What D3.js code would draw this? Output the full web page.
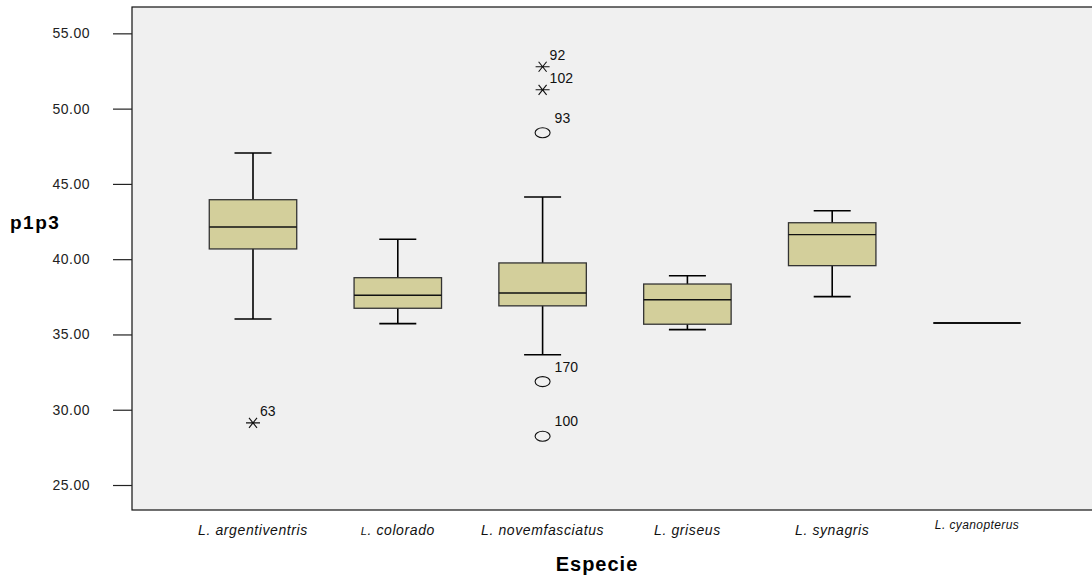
<!DOCTYPE html>
<html>
<head>
<meta charset="utf-8">
<script src="https://cdn.jsdelivr.net/npm/d3@7"></script>
<style>
  body { margin: 0; background: white; }
  text { font-family: "Liberation Sans", Arial, sans-serif; }
</style>
</head>
<body>
<div id="app"></div>
<script>
// data
const especies = ["L. argentiventris", "L. colorado", "L. novemfasciatus", "L. griseus", "L. synagris", "L. cyanopterus"]
const whiskLo = [36.03, 35.72, 33.65, 35.32, 37.51, 35.76]
const q1 = [40.68, 36.74, 36.9, 35.68, 39.57, 35.76]
const medians = [42.14, 37.6, 37.75, 37.31, 41.63, 35.76]
const q3 = [43.95, 38.77, 39.75, 38.35, 42.42, 35.76]
const whiskHi = [47.05, 41.32, 44.13, 38.9, 43.22, 35.76]

const outCat = ["L. argentiventris", "L. novemfasciatus", "L. novemfasciatus", "L. novemfasciatus", "L. novemfasciatus", "L. novemfasciatus"]
const outVal = [29.13, 52.78, 51.25, 48.4, 31.87, 28.24]
const outLabel = ["63", "92", "102", "93", "170", "100"]
const outType = ["star", "star", "star", "circle", "circle", "circle"]

const yTicks = [25, 30, 35, 40, 45, 50, 55]

var w = 1092
var h = 579
const plotL = 132, plotT = 7, plotB = 510

const svg = d3.select("#app")
  .append("svg")
  .attr("width", w)
  .attr("height", h)

svg.append("rect")
  .attr("x", plotL)
  .attr("y", plotT)
  .attr("width", w - plotL + 5)
  .attr("height", plotB - plotT)
  .style("fill", "#f0f0f0")
  .style("stroke", "#111")
  .style("stroke-width", 1.2)

const y = d3.scaleLinear()
  .domain([23.34, 56.75])
  .range([plotB, plotT])

const x = d3.scaleBand()
  .domain(especies)
  .range([180.6, 1049.4])
  .paddingInner(0.396)
  .paddingOuter(0.198)

const cx = d => x(d) + x.bandwidth() / 2
const capW = 37

// y axis
const yAxis = d3.axisLeft(y)
  .tickValues(yTicks)
  .tickFormat(d3.format(".2f"))
  .tickSize(19)
  .tickPadding(23)

const ya = svg.append("g")
  .attr("transform", "translate(" + plotL + ",0)")
  .call(yAxis)
ya.select(".domain").remove()
ya.selectAll("line").style("stroke", "#222").style("stroke-width", 1.2)
ya.selectAll("text")
  .style("font-size", "14px")
  .style("letter-spacing", "0.5px")
  .style("fill", "#222")

// x axis labels
const xa = svg.append("g")
  .attr("transform", "translate(0," + plotB + ")")
  .call(d3.axisBottom(x).tickSize(0).tickPadding(15))
xa.select(".domain").remove()
xa.selectAll("text")
  .style("font-size", d => d === "L. cyanopterus" ? "12px" : "14px")
  .style("letter-spacing", d => d === "L. cyanopterus" ? "0.4px" : "0.6px")
  .style("font-style", "italic")
  .style("fill", "#111")
  .attr("dy", d => d === "L. cyanopterus" ? "0.35em" : "0.71em")

// the "L" of colorado is set smaller in the original
xa.selectAll("text")
  .filter(d => d === "L. colorado")
  .text(null)
  .call(t => {
    t.append("tspan").style("font-size", "11px").text("L")
    t.append("tspan").text(". colorado")
  })

const boxes = svg.selectAll("g.box")
  .data(especies)
  .enter()
  .append("g")
  .attr("class", "box")

// whiskers
boxes.append("line")
  .attr("x1", d => cx(d)).attr("x2", d => cx(d))
  .attr("y1", (d, i) => y(whiskLo[i]))
  .attr("y2", (d, i) => y(whiskHi[i]))
  .style("stroke", "#000").style("stroke-width", 1.6)

boxes.filter((d, i) => whiskHi[i] > whiskLo[i])
  .selectAll("line.cap")
  .data(d => {
    let i = especies.indexOf(d)
    return [{d: d, v: whiskLo[i]}, {d: d, v: whiskHi[i]}]
  })
  .enter()
  .append("line")
  .attr("class", "cap")
  .attr("x1", e => cx(e.d) - capW / 2)
  .attr("x2", e => cx(e.d) + capW / 2)
  .attr("y1", e => y(e.v)).attr("y2", e => y(e.v))
  .style("stroke", "#000").style("stroke-width", 1.6)

boxes.append("rect")
  .attr("x", d => x(d))
  .attr("width", x.bandwidth())
  .attr("y", (d, i) => y(q3[i]))
  .attr("height", (d, i) => y(q1[i]) - y(q3[i]))
  .style("fill", "#d3cf9b")
  .style("stroke", "#333")
  .style("stroke-width", 1.3)

boxes.append("line")
  .attr("x1", d => x(d))
  .attr("x2", d => x(d) + x.bandwidth())
  .attr("y1", (d, i) => y(medians[i]))
  .attr("y2", (d, i) => y(medians[i]))
  .style("stroke", "#111")
  .style("stroke-width", d => d === "L. cyanopterus" ? 2.2 : 1.4)

// outliers
const outs = svg.selectAll("g.out")
  .data(outVal)
  .enter()
  .append("g")
  .attr("class", "out")
  .attr("transform", (v, i) => "translate(" + cx(outCat[i]) + "," + y(v) + ")")

const star = "M-7,0L7,0M-4,-5L4,5M4,-5L-4,5"
outs.filter((v, i) => outType[i] === "star")
  .append("path")
  .attr("d", star)
  .style("stroke", "#111").style("stroke-width", 1.1).style("fill", "none")

outs.filter((v, i) => outType[i] === "circle")
  .append("ellipse")
  .attr("rx", 7.5).attr("ry", 5)
  .style("stroke", "#111").style("stroke-width", 1.1).style("fill", "none")

outs.append("text")
  .attr("x", (v, i) => outType[i] === "star" ? 7 : 12)
  .attr("y", (v, i) => outType[i] === "star" ? -7 : -10)
  .text((v, i) => outLabel[i])
  .style("font-size", "14px")
  .style("fill", "#111")

// axis titles
svg.append("text")
  .attr("x", 10).attr("y", 229)
  .text("p1p3")
  .style("font-size", "19px").style("font-weight", "bold")
  .style("letter-spacing", "1.5px")

svg.append("text")
  .attr("x", 597).attr("y", 571)
  .attr("text-anchor", "middle")
  .text("Especie")
  .style("font-size", "20px").style("font-weight", "bold")
  .style("letter-spacing", "1px")
</script>
</body>
</html>
